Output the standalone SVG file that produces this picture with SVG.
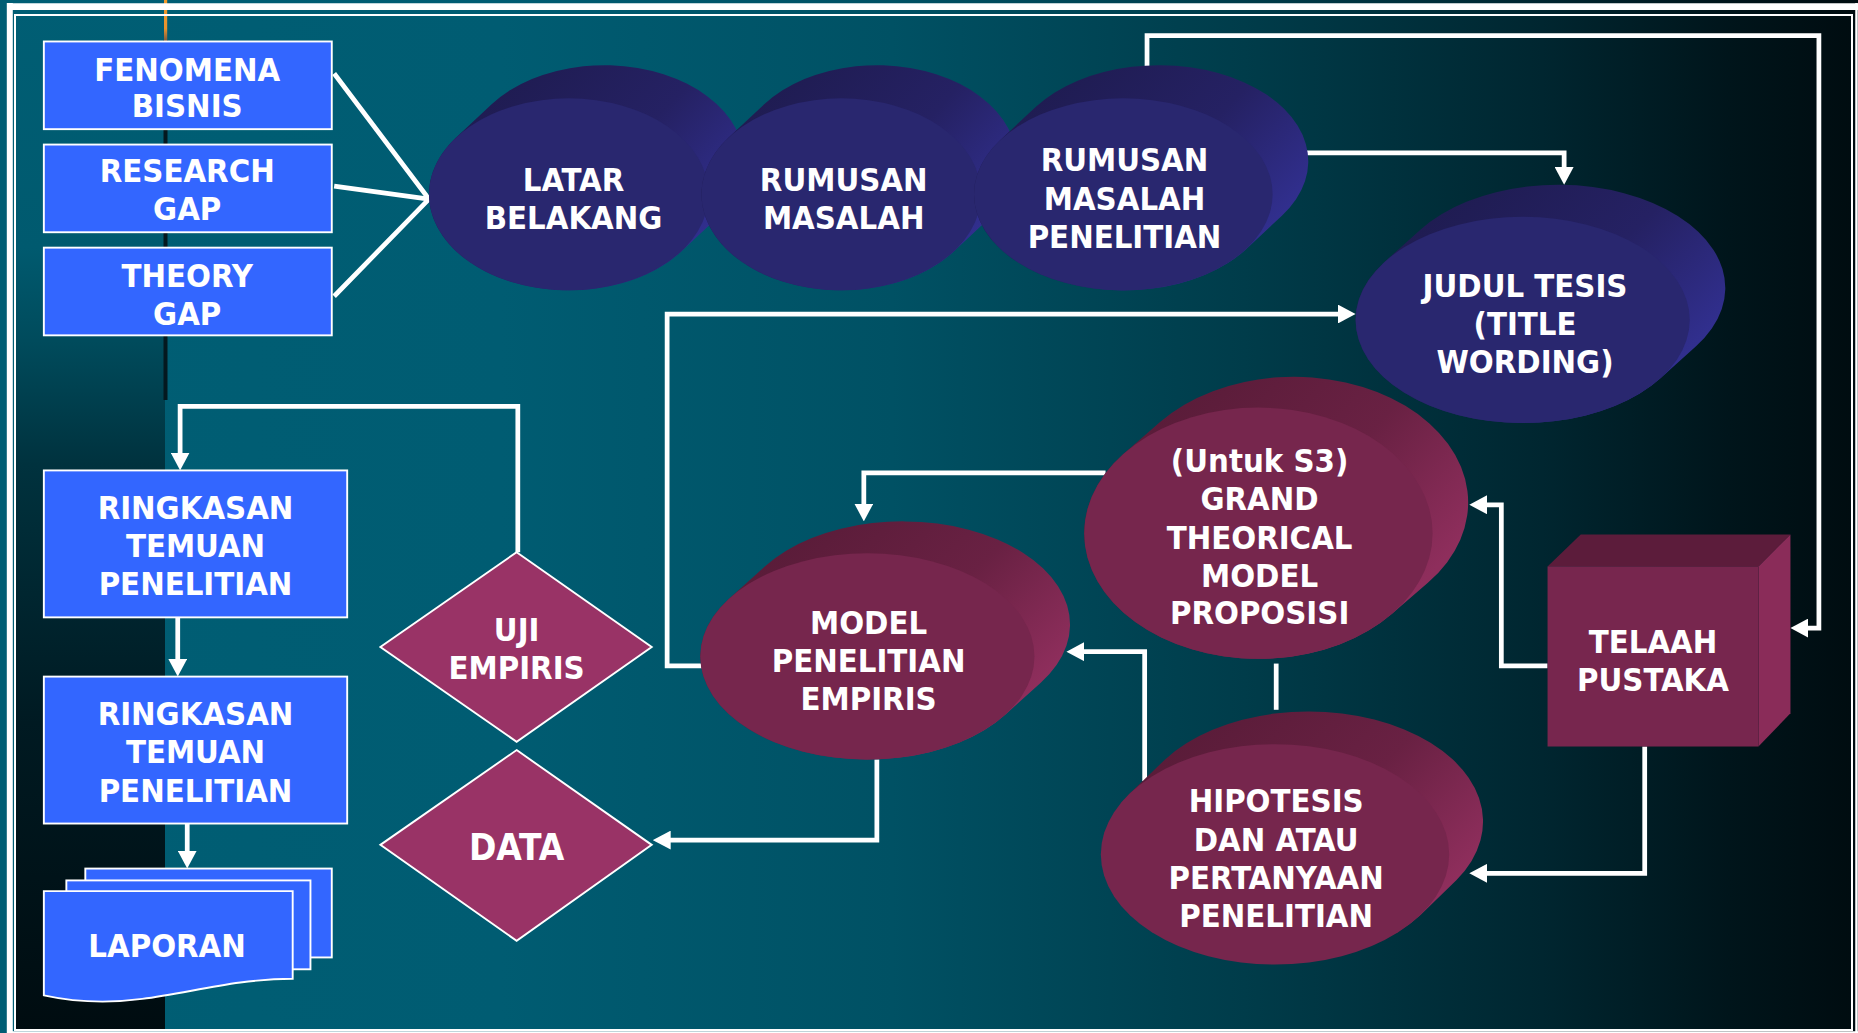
<svg xmlns="http://www.w3.org/2000/svg" width="1858" height="1033" viewBox="0 0 1858 1033">
<defs>
<linearGradient id="bgH" gradientUnits="userSpaceOnUse" x1="0" y1="0" x2="1858" y2="0">
<stop offset="0" stop-color="#005e74"/>
<stop offset="0.27" stop-color="#005c72"/>
<stop offset="0.48" stop-color="#005164"/>
<stop offset="0.67" stop-color="#003c4a"/>
<stop offset="0.83" stop-color="#002630"/>
<stop offset="0.93" stop-color="#00151b"/>
<stop offset="1" stop-color="#000c10"/>
</linearGradient>
<linearGradient id="bgV" gradientUnits="userSpaceOnUse" x1="0" y1="0" x2="0" y2="1033">
<stop offset="0" stop-color="#005e74"/>
<stop offset="0.24" stop-color="#005a6f"/>
<stop offset="0.33" stop-color="#004b5c"/>
<stop offset="0.45" stop-color="#00323e"/>
<stop offset="0.7" stop-color="#001a22"/>
<stop offset="1" stop-color="#000c10"/>
</linearGradient>
<linearGradient id="orng" x1="0" y1="0" x2="0" y2="1">
<stop offset="0" stop-color="#f59a2a"/>
<stop offset="0.7" stop-color="#e8922e"/>
<stop offset="1" stop-color="#7a5a40"/>
</linearGradient>
<linearGradient id="navySide" x1="0.25" y1="0.05" x2="1" y2="0.55">
<stop offset="0" stop-color="#1f1c52"/>
<stop offset="0.55" stop-color="#252163"/>
<stop offset="1" stop-color="#312f8e"/>
</linearGradient>
<linearGradient id="maroonSide" x1="0.25" y1="0.05" x2="1" y2="0.55">
<stop offset="0" stop-color="#5a1c39"/>
<stop offset="0.55" stop-color="#692143"/>
<stop offset="1" stop-color="#8e2e5c"/>
</linearGradient>
<marker id="ah" markerUnits="userSpaceOnUse" markerWidth="15" markerHeight="16" refX="4" refY="8" orient="auto" viewBox="0 0 15 16">
<path d="M0,0 L15,8 L0,16 Z" fill="#ffffff"/>
</marker>
<style>
.t{font-family:"DejaVu Sans Condensed","DejaVu Sans",sans-serif;font-stretch:condensed;font-weight:bold;font-size:27.5px;fill:#ffffff;text-anchor:middle;}
.big{font-size:31px;}
.box{fill:#3366ff;stroke:#ffffff;stroke-width:1.6;}
.dia{fill:#993366;stroke:#ffffff;stroke-width:1.6;}
.navyF{fill:#29276f;}
.navyS{fill:url(#navySide);}
.marF{fill:#76264d;}
.marS{fill:url(#maroonSide);}
.con{fill:none;stroke:#ffffff;stroke-width:4;stroke-linejoin:miter;}
.arr{marker-end:url(#ah);}
</style>
</defs>

<!-- background -->
<rect x="0" y="0" width="1858" height="1033" fill="url(#bgH)"/>
<rect x="16" y="16" width="149" height="1014" fill="url(#bgV)"/>
<line x1="165.5" y1="40" x2="165.5" y2="400" stroke="#04181f" stroke-width="4"/>
<rect x="164" y="0" width="3.2" height="41" fill="url(#orng)"/>

<!-- frame -->
<g fill="none" stroke="#ffffff">
<line x1="7" y1="6.7" x2="1858" y2="6.7" stroke-width="6.7"/>
<line x1="9.8" y1="3" x2="9.8" y2="1033" stroke-width="6"/>
<line x1="1856.5" y1="3" x2="1856.5" y2="1033" stroke-width="2.5"/>
<line x1="7" y1="1032.2" x2="1858" y2="1032.2" stroke-width="1.8"/>
<rect x="15" y="15" width="1837" height="1015" stroke-width="2"/>
</g>

<g transform="scale(1.18495)">

<!-- connectors -->
<g id="connectors">
<path class="con" d="M282,62 L362,168 L282,250"/>
<path class="con" d="M282,157 L362,168"/>
<path class="con arr" d="M968,56 V30 H1535 V530 H1522"/>
<path class="con arr" d="M1103,129 H1320 V145"/>
<path class="con arr" d="M593,562 H563 V265 H1133"/>
<path class="con arr" d="M933,399 H729 V429"/>
<path class="con arr" d="M1306,562 H1267 V426 H1251"/>
<path class="con arr" d="M1388,630 V737 H1251"/>
<path class="con" d="M1077,560 V599"/>
<path class="con arr" d="M966,659 V550 H911"/>
<path class="con arr" d="M740,641 V709 H562"/>
<path class="con arr" d="M437,466 V343 H152 V386"/>
<path class="con arr" d="M150,521 V560"/>
<path class="con arr" d="M158,695 V722"/>
</g>

<!-- left boxes -->
<g id="fenomena">
<rect class="box" x="37" y="35" width="243" height="74"/>
<text class="t"><tspan x="158" y="68">FENOMENA</tspan><tspan x="158" y="99">BISNIS</tspan></text>
</g>
<g id="research-gap">
<rect class="box" x="37" y="122" width="243" height="74"/>
<text class="t"><tspan x="158" y="154">RESEARCH</tspan><tspan x="158" y="186">GAP</tspan></text>
</g>
<g id="theory-gap">
<rect class="box" x="37" y="209" width="243" height="74"/>
<text class="t"><tspan x="158" y="242">THEORY</tspan><tspan x="158" y="274">GAP</tspan></text>
</g>
<g id="ringkasan-1">
<rect class="box" x="37" y="397" width="256" height="124"/>
<text class="t"><tspan x="165" y="438">RINGKASAN</tspan><tspan x="165" y="470">TEMUAN</tspan><tspan x="165" y="502">PENELITIAN</tspan></text>
</g>
<g id="ringkasan-2">
<rect class="box" x="37" y="571" width="256" height="124"/>
<text class="t"><tspan x="165" y="612">RINGKASAN</tspan><tspan x="165" y="644">TEMUAN</tspan><tspan x="165" y="677">PENELITIAN</tspan></text>
</g>
<g id="laporan">
<rect class="box" x="72" y="733" width="208" height="75"/>
<rect class="box" x="56" y="743" width="206" height="75"/>
<path class="box" d="M37,752 H247 V826 C200,826 160,838 120,843 C90,847 60,845 37,840 Z"/>
<text class="t" x="141" y="808">LAPORAN</text>
</g>

<!-- diamonds -->
<g id="uji-empiris">
<polygon class="dia" points="436,466 550,546 436,626 321,546"/>
<text class="t"><tspan x="436" y="541">UJI</tspan><tspan x="436" y="573">EMPIRIS</tspan></text>
</g>
<g id="data">
<polygon class="dia" points="436,633 550,713 436,794 321,713"/>
<text class="t big" x="436" y="726">DATA</text>
</g>

<!-- navy cylinders -->
<g id="latar-belakang">
<path class="navyS" d="M414.9,88 A118,81 0 0 1 605.1,184 L575.1,212 A118,81 0 0 1 384.9,116 Z"/>
<ellipse class="navyF" cx="480" cy="164" rx="118" ry="81"/>
<text class="t"><tspan x="484" y="161">LATAR</tspan><tspan x="484" y="193">BELAKANG</tspan></text>
</g>
<g id="rumusan-masalah">
<path class="navyS" d="M644.9,88 A118,81 0 0 1 835.1,184 L805.1,212 A118,81 0 0 1 614.9,116 Z"/>
<ellipse class="navyF" cx="710" cy="164" rx="118" ry="81"/>
<text class="t"><tspan x="712" y="161">RUMUSAN</tspan><tspan x="712" y="193">MASALAH</tspan></text>
</g>
<g id="rumusan-masalah-penelitian">
<path class="navyS" d="M874.2,90.1 A126,81 0 0 1 1081.8,182.1 L1051.8,210.1 A126,81 0 0 1 844.2,118.1 Z"/>
<ellipse class="navyF" cx="948" cy="164" rx="126" ry="81"/>
<text class="t"><tspan x="949" y="144">RUMUSAN</tspan><tspan x="949" y="177">MASALAH</tspan><tspan x="949" y="209">PENELITIAN</tspan></text>
</g>
<g id="judul-tesis">
<path class="navyS" d="M1198.7,193.8 A141,87 0 0 1 1431.3,292.2 L1401.3,319.2 A141,87 0 0 1 1168.7,220.8 Z"/>
<ellipse class="navyF" cx="1285" cy="270" rx="141" ry="87"/>
<text class="t"><tspan x="1287" y="251">JUDUL TESIS</tspan><tspan x="1287" y="283">(TITLE</tspan><tspan x="1287" y="315">WORDING)</tspan></text>
</g>

<!-- maroon cylinders -->
<g id="grand-theorical">
<path class="marS" d="M979,356.2 A147,106 0 0 1 1205,491.8 L1175,517.8 A147,106 0 0 1 949,382.2 Z"/>
<ellipse class="marF" cx="1062" cy="450" rx="147" ry="106"/>
<text class="t"><tspan x="1063" y="398">(Untuk S3)</tspan><tspan x="1063" y="430">GRAND</tspan><tspan x="1063" y="463">THEORICAL</tspan><tspan x="1063" y="495">MODEL</tspan><tspan x="1063" y="527">PROPOSISI</tspan></text>
</g>
<g id="model-penelitian">
<path class="marS" d="M645.7,477.8 A141,87 0 0 1 878.3,576.2 L848.3,603.2 A141,87 0 0 1 615.7,504.8 Z"/>
<ellipse class="marF" cx="732" cy="554" rx="141" ry="87"/>
<text class="t"><tspan x="733" y="535">MODEL</tspan><tspan x="733" y="567">PENELITIAN</tspan><tspan x="733" y="599">EMPIRIS</tspan></text>
</g>
<g id="hipotesis">
<path class="marS" d="M983,641.1 A147,93 0 0 1 1229,742.9 L1199,771.9 A147,93 0 0 1 953,670.1 Z"/>
<ellipse class="marF" cx="1076" cy="721" rx="147" ry="93"/>
<text class="t"><tspan x="1077" y="685">HIPOTESIS</tspan><tspan x="1077" y="718">DAN ATAU</tspan><tspan x="1077" y="750">PERTANYAAN</tspan><tspan x="1077" y="782">PENELITIAN</tspan></text>
</g>

<!-- cube -->
<g id="telaah-pustaka">
<polygon points="1306,478 1334,451 1511,451 1484,478" fill="#5c1c3b"/>
<polygon points="1484,478 1511,451 1511,602 1484,630" fill="#8a2c59"/>
<rect x="1306" y="478" width="178" height="152" fill="#77264e"/>
<text class="t"><tspan x="1395" y="551">TELAAH</tspan><tspan x="1395" y="583">PUSTAKA</tspan></text>
</g>

</g>
</svg>
